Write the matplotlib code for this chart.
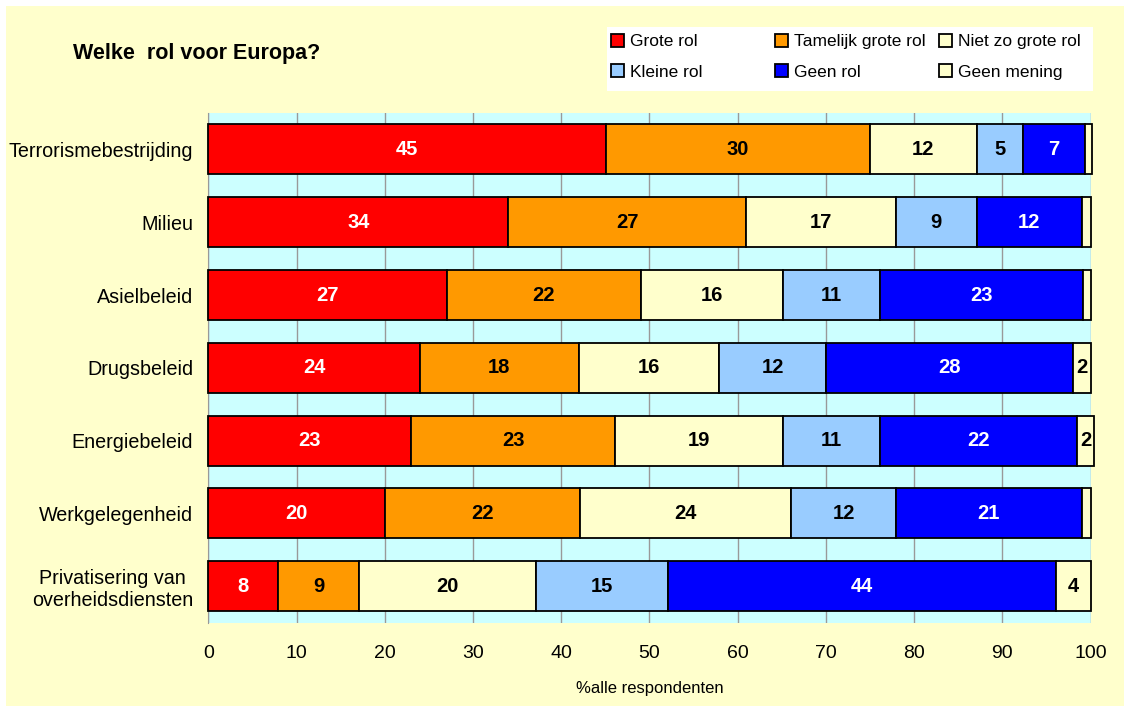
import matplotlib.pyplot as plt
import numpy as np

plt.rcParams['font.family'] = ['Liberation Sans', 'DejaVu Sans']

# categories (top to bottom) and segment values
categories = ['Terrorismebestrijding', 'Milieu', 'Asielbeleid', 'Drugsbeleid',
              'Energiebeleid', 'Werkgelegenheid', 'Privatisering van\noverheidsdiensten']
series = ['Grote rol', 'Tamelijk grote rol', 'Niet zo grote rol',
          'Kleine rol', 'Geen rol', 'Geen mening']

grote = [45.1, 34.0, 27.1, 24.0, 23.0, 20.0, 7.9]
tamelijk = [29.9, 27.0, 21.9, 18.0, 23.1, 22.1, 9.2]
niet_zo = [12.1, 16.9, 16.1, 15.9, 19.0, 24.0, 20.0]
kleine = [5.2, 9.2, 11.0, 12.1, 11.0, 11.8, 15.0]
geen = [7.1, 11.9, 23.0, 28.0, 22.35, 21.1, 44.0]
geen_mening = [0.8, 1.0, 1.0, 2.0, 2.0, 1.0, 3.9]

colors = ['#FF0000', '#FF9900', '#FFFFCC', '#99CCFF', '#0000FF', '#FFFFCC']
text_colors = ['white', 'black', 'black', 'black', 'white', 'black']

data = [grote, tamelijk, niet_zo, kleine, geen, geen_mening]

W, H = 1130, 712
fig = plt.figure(figsize=(W / 100, H / 100), dpi=100, facecolor='white')
# light yellow panel inside a thin white border
fig.patches.append(plt.Rectangle((6 / W, 6 / H), 1 - 12 / W, 1 - 12 / H,
                                 transform=fig.transFigure, facecolor='#FFFFCC',
                                 edgecolor='none', zorder=-10))
# white legend box
fig.patches.append(plt.Rectangle((607 / W, 1 - 91 / H), (1093 - 607) / W, 64 / H,
                                 transform=fig.transFigure, facecolor='white',
                                 edgecolor='none', zorder=-5))

ax = fig.add_axes([208.3 / W, 1 - 622.7 / H, (1090.5 - 208.3) / W, (622.7 - 113) / H])
ax.set_facecolor('#CCFFFF')

y = np.arange(len(categories))
left = np.zeros(len(categories))
handles = []
for vals, name, col, tcol in zip(data, series, colors, text_colors):
    vals = np.array(vals)
    b = ax.barh(y, vals, left=left, height=0.687, color=col, edgecolor='black',
                linewidth=1.3, label=name, zorder=3)
    for p in b:
        p.set_clip_on(False)
    handles.append(b)
    for yi, l, v in zip(y, left, vals):
        if v >= 1.5:
            ax.text(l + v / 2, yi, f'{round(v):d}', ha='center', va='center',
                    color=tcol, fontsize=14.5, fontweight='bold', zorder=4)
    left = left + vals

ax.set_xlim(0, 100)
ax.set_ylim(len(categories) - 0.5, -0.5)
ax.set_xticks(range(0, 101, 10))
ax.set_yticks(y)
ax.set_yticklabels(categories, fontsize=14.2, multialignment='center')
ax.tick_params(axis='y', length=0, pad=11)
ax.tick_params(axis='x', length=0, pad=16, labelsize=14)
ax.grid(axis='x', color='#999999', lw=1, zorder=0)
for s in ['top', 'right', 'bottom']:
    ax.spines[s].set_visible(False)
ax.spines['left'].set_color('#999999')
ax.set_xlabel('%alle respondenten', fontsize=12, labelpad=14)

fig.text(73 / W, 1 - 53 / H, 'Welke  rol voor Europa?', fontsize=15.5,
         fontweight='bold', va='center', ha='left')

# three legend columns at fixed positions, like the original
col_x = [611, 775, 939]
for c, x0 in enumerate(col_x):
    idx = [c, c + 3]
    fig.legend([handles[i] for i in idx], [series[i] for i in idx],
               loc='upper left', bbox_to_anchor=(x0 / W, 1 - 34 / H),
               frameon=False, fontsize=12.5, handlelength=0.75, handleheight=0.75,
               handletextpad=0.35, borderaxespad=0, borderpad=0, labelspacing=0.85)

fig.savefig('out.png', dpi=100, facecolor=fig.get_facecolor())
